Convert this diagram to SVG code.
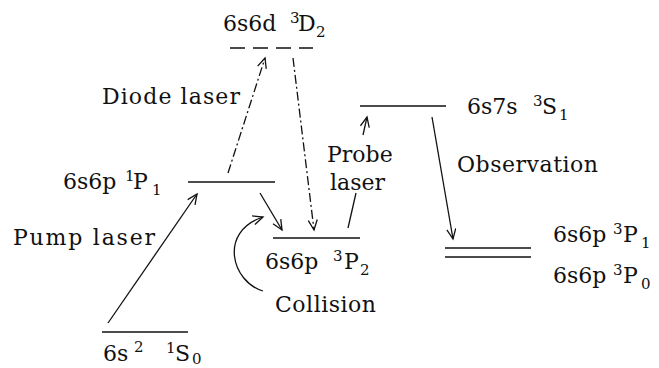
<svg xmlns="http://www.w3.org/2000/svg" width="659" height="368" viewBox="0 0 659 368">
<style>
text{font-family:"DejaVu Serif","Liberation Serif",serif;font-size:22px;fill:#111}
.s{font-size:15px}
.lvl{stroke:#111;stroke-width:1.6;fill:none}
.ar{stroke:#111;stroke-width:1.3;fill:none}
.dd{stroke-dasharray:9 3 2 3}
</style>
<defs>
<marker id="ah" markerUnits="userSpaceOnUse" markerWidth="14" markerHeight="12" refX="11" refY="5" orient="auto">
<path d="M1,0.5 L11,5 L1,9.5" fill="none" stroke="#111" stroke-width="1.3"/>
</marker>
</defs>
<rect width="659" height="368" fill="#fff"/>
<g id="level-3D2">
<line class="lvl" x1="230" y1="48" x2="313" y2="48" stroke-dasharray="15 8"/>
<text x="223" y="31">6s6d</text>
<text class="s" x="290" y="23">3</text>
<text x="298" y="31">D</text>
<text class="s" x="316" y="37">2</text>
</g>
<g id="level-1P1">
<line class="lvl" x1="188" y1="182" x2="275" y2="182"/>
<text x="63" y="189">6s6p</text>
<text class="s" x="125" y="181">1</text>
<text x="133" y="189">P</text>
<text class="s" x="152" y="195">1</text>
</g>
<g id="level-3P2">
<line class="lvl" x1="273" y1="238" x2="360" y2="238"/>
<text x="265" y="269">6s6p</text>
<text class="s" x="333" y="261">3</text>
<text x="344" y="269">P</text>
<text class="s" x="360" y="275">2</text>
</g>
<g id="level-1S0">
<line class="lvl" x1="102" y1="332" x2="188" y2="332"/>
<text x="103" y="361">6s</text>
<text class="s" x="134" y="352">2</text>
<text class="s" x="166" y="353">1</text>
<text x="175" y="361">S</text>
<text class="s" x="192" y="364">0</text>
</g>
<g id="level-3S1">
<line class="lvl" x1="360" y1="106" x2="446" y2="106"/>
<text x="467" y="114">6s7s</text>
<text class="s" x="533" y="106">3</text>
<text x="542" y="114">S</text>
<text class="s" x="559" y="120">1</text>
</g>
<g id="level-3P1">
<line class="lvl" x1="445" y1="248" x2="531" y2="248"/>
<text x="553" y="242">6s6p</text>
<text class="s" x="613" y="234">3</text>
<text x="623" y="242">P</text>
<text class="s" x="641" y="248">1</text>
</g>
<g id="level-3P0">
<line class="lvl" x1="445" y1="257" x2="531" y2="257"/>
<text x="553" y="283">6s6p</text>
<text class="s" x="613" y="275">3</text>
<text x="623" y="283">P</text>
<text class="s" x="641" y="289">0</text>
</g>
<g id="labels">
<text x="13" y="245" textLength="142" lengthAdjust="spacing">Pump laser</text>
<text x="102" y="104" textLength="138" lengthAdjust="spacing">Diode laser</text>
<text x="327" y="162">Probe</text>
<text x="330" y="190">laser</text>
<text x="457" y="172" textLength="141" lengthAdjust="spacing">Observation</text>
<text x="275" y="312" textLength="101" lengthAdjust="spacing">Collision</text>
</g>
<g id="connectors">
<line class="ar" x1="108" y1="323" x2="197" y2="194" marker-end="url(#ah)"/>
<line class="ar dd" x1="228" y1="173" x2="265" y2="58" marker-end="url(#ah)"/>
<line class="ar dd" x1="293" y1="58" x2="314" y2="230" marker-end="url(#ah)"/>
<line class="ar" x1="260" y1="193" x2="282" y2="230" marker-end="url(#ah)"/>
<path class="ar" d="M263,291 C232,282 218,232 263,217" marker-end="url(#ah)"/>
<line class="ar" x1="348" y1="228" x2="356" y2="193"/>
<line class="ar" x1="363" y1="135" x2="367" y2="117" marker-end="url(#ah)"/>
<line class="ar" x1="432" y1="117" x2="453" y2="239" marker-end="url(#ah)"/>
</g>
</svg>
